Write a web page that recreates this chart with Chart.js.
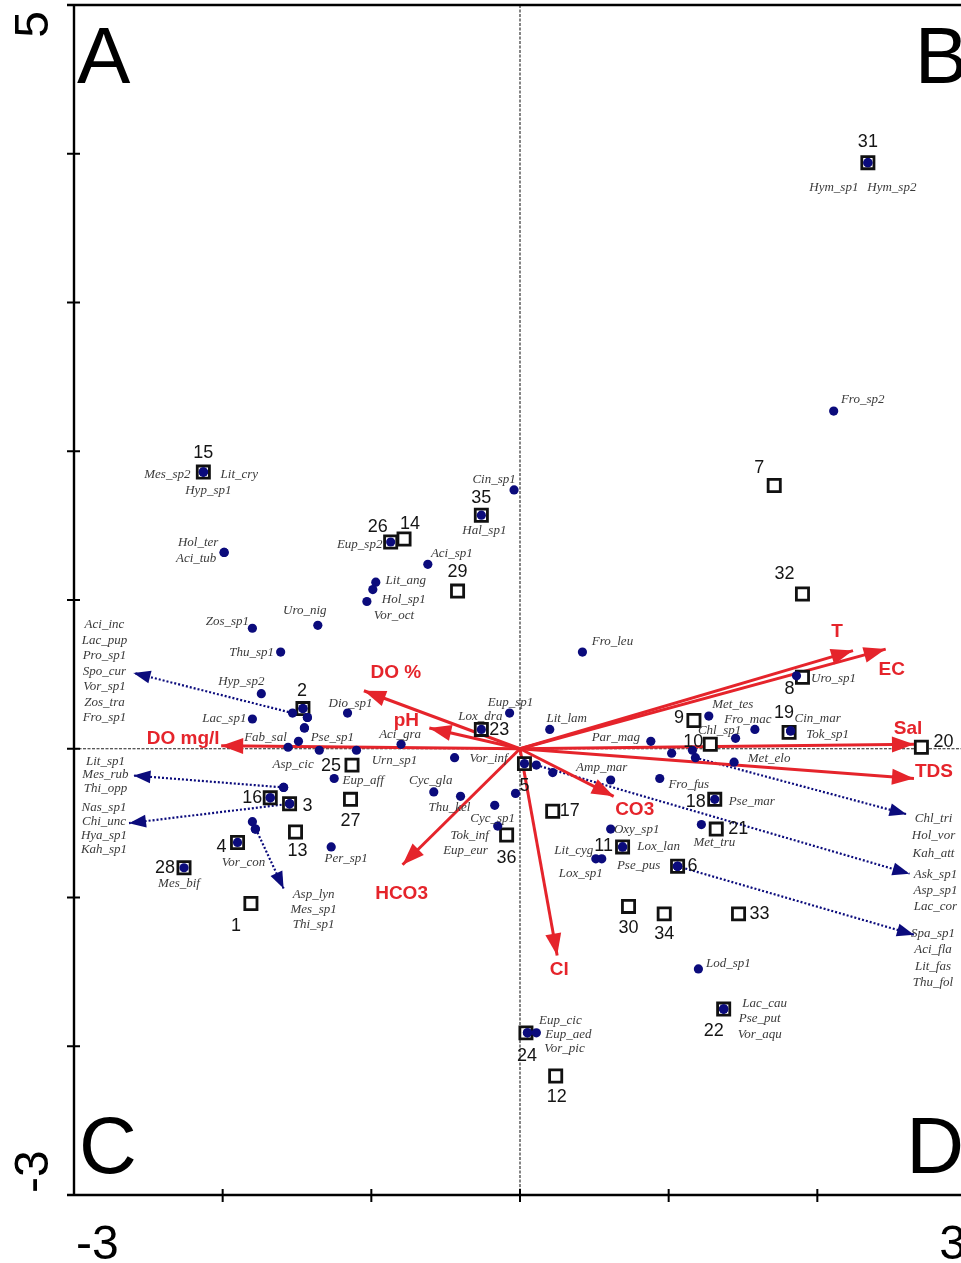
<!DOCTYPE html>
<html>
<head>
<meta charset="utf-8">
<script src="https://cdn.jsdelivr.net/npm/chart.js@4/dist/chart.umd.min.js"></script>
<style>
  html, body { margin: 0; padding: 0; overflow: hidden; background: #fff; }
  canvas { display: block; }
</style>
</head>
<body>
<canvas id="c" width="980" height="1263"></canvas>
<script>
// ---- Site scores (axis 1, axis 2) ----
const siteIds = [1,2,3,4,5,6,7,8,9,10,11,12,13,14,15,16,17,18,19,20,21,22,23,24,25,26,27,28,29,30,31,32,33,34,35,36];
const siteX = [-1.81,-1.46,-1.55,-1.90,0.03,1.06,1.71,1.90,1.17,1.28,0.69,0.24,-1.51,-0.78,-2.13,-1.68,0.22,1.31,1.81,2.70,1.32,1.37,-0.26,0.04,-1.13,-0.87,-1.14,-2.26,-0.42,0.73,2.34,1.90,1.47,0.97,-0.26,-0.09];
const siteY = [-1.04,0.27,-0.37,-0.63,-0.10,-0.79,1.77,0.48,0.19,0.03,-0.66,-2.20,-0.56,1.41,1.86,-0.33,-0.42,-0.34,0.11,0.01,-0.54,-1.75,0.13,-1.91,-0.11,1.39,-0.34,-0.80,1.06,-1.06,3.94,1.04,-1.11,-1.11,1.57,-0.58];

// ---- Species scores ----
const speciesNames = [
  'Hym_sp1','Hym_sp2','Fro_sp2','Mes_sp2','Lit_cry','Hyp_sp1','Hol_ter','Aci_tub','Cin_sp1','Hal_sp1',
  'Eup_sp2','Aci_sp1','Lit_ang','Hol_sp1','Vor_oct','Uro_nig','Zos_sp1','Thu_sp1','Hyp_sp2','Lac_sp1',
  'Dio_sp1','Aci_inc','Lac_pup','Pro_sp1','Spo_cur','Vor_sp1','Zos_tra','Fro_sp1','Fab_sal','Asp_cic',
  'Pse_sp1','Urn_sp1','Aci_gra','Eup_aff','Vor_inf','Lox_dra','Eup_sp1','Lit_lam','Cyc_gla','Thu_kel',
  'Cyc_sp1','Tok_inf','Eup_eur','Amp_mar','Fro_fus','Par_mag','Met_tes','Fro_mac','Chl_sp1','Cin_mar',
  'Tok_sp1','Uro_sp1','Met_elo','Pse_mar','Met_tru','Oxy_sp1','Lox_lan','Pse_pus','Lit_cyg','Lox_sp1',
  'Lod_sp1','Lac_cau','Pse_put','Vor_aqu','Eup_cic','Eup_aed','Vor_pic','Fro_leu','Per_sp1','Vor_con',
  'Mes_bif','Lit_sp1','Mes_rub','Thi_opp','Nas_sp1','Chi_unc','Hya_sp1','Kah_sp1','Asp_lyn','Mes_sp1',
  'Thi_sp1','Chl_tri','Hol_vor','Kah_att','Ask_sp1','Asp_sp1','Lac_cor','Spa_sp1','Aci_fla','Lit_fas',
  'Thu_fol'
];
const speciesX = [
  2.34,2.34,2.11,-2.13,-2.13,-2.13,-1.99,-1.99,-0.04,-0.26,
  -0.87,-0.62,-0.97,-0.99,-1.03,-1.36,-1.80,-1.61,-1.74,-1.80,
  -1.16,-1.46,-1.46,-1.43,-1.53,-1.45,-1.45,-1.43,-1.49,-1.56,
  -1.35,-1.10,-0.80,-1.25,-0.44,-0.26,-0.07,0.20,-0.58,-0.40,
  -0.17,-0.15,-0.03,0.61,0.94,0.88,1.27,1.58,1.45,1.82,
  1.82,1.86,1.44,1.31,1.22,0.61,0.69,0.69,0.51,0.55,
  1.20,1.37,1.37,1.37,0.11,0.05,0.05,0.42,-1.27,-1.90,
  -2.26,-1.59,-1.59,-1.68,-1.55,-1.55,-1.68,-1.55,-1.80,-1.78,
  -1.78,1.18,1.16,1.02,0.11,0.22,0.03,1.06,1.06,1.06,
  1.06
];
const speciesY = [
  3.94,3.94,2.27,1.86,1.86,1.86,1.32,1.32,1.74,1.57,
  1.39,1.24,1.12,1.07,0.99,0.83,0.81,0.65,0.37,0.20,
  0.24,0.27,0.27,0.21,0.24,0.14,0.14,0.21,0.05,0.01,
  -0.01,-0.01,0.03,-0.20,-0.06,0.13,0.24,0.13,-0.29,-0.32,
  -0.38,-0.52,-0.30,-0.21,-0.20,0.05,0.22,0.13,0.07,0.12,
  0.12,0.49,-0.09,-0.34,-0.51,-0.54,-0.66,-0.66,-0.74,-0.74,
  -1.48,-1.75,-1.75,-1.75,-1.91,-1.91,-1.91,0.65,-0.66,-0.63,
  -0.80,-0.26,-0.26,-0.33,-0.37,-0.37,-0.33,-0.37,-0.49,-0.54,
  -0.54,-0.06,-0.01,-0.03,-0.11,-0.16,-0.10,-0.79,-0.79,-0.79,
  -0.79
];

// ---- Environmental variables (biplot arrows) ----
const envNames = ['T','EC','Sal','TDS','CO3','Cl','HCO3','DO %','pH','DO mg/l'];
const envX = [2.24,2.46,2.65,2.65,0.63,0.25,-0.79,-1.05,-0.61,-2.01];
const envY = [0.66,0.67,0.03,-0.20,-0.32,-1.39,-0.78,0.39,0.14,0.02];

// ---- Species whose names are listed away from crowded spots ----
const groupLead = ['Spo_cur','Lit_sp1','Chi_unc','Asp_lyn','Chl_tri','Ask_sp1','Spa_sp1'];
const groupMembers = [
  ['Aci_inc','Lac_pup','Pro_sp1','Spo_cur','Vor_sp1','Zos_tra','Fro_sp1'],
  ['Lit_sp1','Mes_rub','Thi_opp'],
  ['Nas_sp1','Chi_unc','Hya_sp1','Kah_sp1'],
  ['Asp_lyn','Mes_sp1','Thi_sp1'],
  ['Chl_tri','Hol_vor','Kah_att'],
  ['Ask_sp1','Asp_sp1','Lac_cor'],
  ['Spa_sp1','Aci_fla','Lit_fas','Thu_fol']
];
const groupTipX = [-2.60,-2.60,-2.63,-1.59,2.60,2.62,2.65];
const groupTipY = [0.51,-0.18,-0.50,-0.94,-0.44,-0.84,-1.25];

// ---- Axis texts ----
const xTickLabels = ['-3','3'];
const yTickLabels = ['5','-3'];
const quadrantLetters = ['A','B','C','D'];

// ---- Styling / placement ----
const RED = '#e5242b';
const NAVY = '#0b0b7c';
const SP_FONT = "italic 13px 'Liberation Serif', 'DejaVu Serif', serif";
const SITE_FONT = "18px 'Liberation Sans', Arial, sans-serif";
const ENV_FONT = "bold 19px 'Liberation Sans', Arial, sans-serif";

// label centre offsets (px) from the point
const siteLabelOffset = {
  1:[-15,23],2:[-1,-18],3:[18,2],4:[-16,5],5:[0,22],6:[15,0],7:[-15,-17],8:[-13,12],9:[-15,-2],10:[-17,-2],
  11:[-19,-1],12:[1,21],13:[2,19],14:[6,-15],15:[0,-19],16:[-18,0],17:[17,0],18:[-19,3],19:[-5,-19],20:[22,-5],
  21:[22,0],22:[-10,22],23:[18,1],24:[1,23],25:[-21,1],26:[-13,-15],27:[0,22],28:[-19,0],29:[0,-19],30:[0,22],
  31:[0,-21],32:[-18,-20],33:[21,0],34:[0,20],35:[0,-17],36:[0,23]
};
const speciesLabelOffset = {
  Hym_sp1:[-34,25],Hym_sp2:[24,25],Fro_sp2:[29,-12],Mes_sp2:[-36,3],Lit_cry:[36,3],Hyp_sp1:[5,19],
  Hol_ter:[-26,-10],Aci_tub:[-28,6],Cin_sp1:[-20,-10],Hal_sp1:[3,15],Eup_sp2:[-31,3],Aci_sp1:[24,-11],
  Lit_ang:[30,-2],Hol_sp1:[31,10],Vor_oct:[27,14],Uro_nig:[-13,-15],Zos_sp1:[-25,-7],Thu_sp1:[-29,1],
  Hyp_sp2:[-20,-12],Lac_sp1:[-28,0],Dio_sp1:[3,-9],Fab_sal:[-33,-4],Pse_sp1:[13,-13],Asp_cic:[5,17],
  Urn_sp1:[38,10],Aci_gra:[-1,-10],Eup_aff:[29,2],Vor_inf:[34,1],Lox_dra:[-1,-13],Eup_sp1:[1,-10],
  Lit_lam:[17,-11],Cyc_gla:[-3,-11],Thu_kel:[-11,11],Cyc_sp1:[-2,13],Tok_inf:[-28,9],Eup_eur:[-50,57],
  Amp_mar:[-9,-12],Fro_fus:[29,6],Par_mag:[-35,-4],Met_tes:[24,-11],Fro_mac:[-7,-10],Chl_sp1:[-16,-8],
  Cin_mar:[27,-12],Tok_sp1:[37,4],Uro_sp1:[37,3],Met_elo:[35,-4],Pse_mar:[37,2],Met_tru:[13,18],
  Oxy_sp1:[26,1],Lox_lan:[36,0],Pse_pus:[16,19],Lit_cyg:[-22,-8],Lox_sp1:[-21,15],Lod_sp1:[30,-5],
  Lac_cau:[41,-5],Pse_put:[36,10],Vor_aqu:[36,26],Eup_cic:[24,-12],Eup_aed:[41,2],Vor_pic:[37,16],
  Fro_leu:[30,-10],Per_sp1:[15,12],Vor_con:[6,20],Mes_bif:[-5,16]
};
// [column centre dx, first line dy, line step] relative to the arrow tip
const groupLabelPlace = [[-29,-48,15.5],[-28,-14,13.5],[-25,-16,14.3],[30,6,15],[27,4,17.5],[26,1,16],[19,-1,16.3]];
const envLabelOffset = [[-16,-19],[6,21],[-6,-16],[20,-7],[21,13],[2,14],[-1,29],[32,-18],[-23,-7],[-38,-7]];

const spIndex = Object.fromEntries(speciesNames.map((n, i) => [n, i]));

// ---- datasets ----
const datasets = [];
datasets.push({
  label: 'Species', type: 'scatter', order: 0,
  data: speciesNames.map((n, i) => ({x: speciesX[i], y: speciesY[i]})),
  pointStyle: 'circle', pointRadius: 4.6, pointBackgroundColor: NAVY, pointBorderWidth: 0
});
datasets.push({
  label: 'Sites', type: 'scatter', order: 1,
  data: siteIds.map((n, i) => ({x: siteX[i], y: siteY[i]})),
  pointStyle: 'rect', pointRadius: 8.6, pointBackgroundColor: '#fff',
  pointBorderColor: '#111', pointBorderWidth: 2.8
});
envNames.forEach((n, i) => datasets.push({
  label: n, type: 'scatter', order: 2, showLine: true,
  data: [{x: 0, y: 0}, {x: envX[i], y: envY[i]}],
  borderColor: RED, borderWidth: 3, pointRadius: 0, clip: false
}));
groupLead.forEach((lead, g) => {
  const k = spIndex[lead];
  datasets.push({
    label: lead, type: 'scatter', order: 3, showLine: true,
    data: [{x: speciesX[k], y: speciesY[k]}, {x: groupTipX[g], y: groupTipY[g]}],
    borderColor: NAVY, borderWidth: 2.2, borderDash: [2, 2], pointRadius: 0, clip: false
  });
});

function arrowHead(ctx, x0, y0, x1, y1, len, hw, color) {
  const dx = x1 - x0, dy = y1 - y0, d = Math.hypot(dx, dy);
  const ux = dx / d, uy = dy / d;
  const bx = x1 - ux * len, by = y1 - uy * len;
  ctx.fillStyle = color;
  ctx.beginPath();
  ctx.moveTo(x1, y1);
  ctx.lineTo(bx - uy * hw, by + ux * hw);
  ctx.lineTo(bx + uy * hw, by - ux * hw);
  ctx.closePath();
  ctx.fill();
}

const ordination = {
  id: 'ordination',
  beforeDatasetsDraw(chart) {
    const {ctx, chartArea: a, scales: {x, y}} = chart;
    const x0 = x.getPixelForValue(0), y0 = y.getPixelForValue(0);
    ctx.save();
    ctx.strokeStyle = '#222';
    ctx.lineWidth = 1.1;
    ctx.setLineDash([3, 1.5]);
    ctx.beginPath();
    ctx.moveTo(x0, a.top); ctx.lineTo(x0, a.bottom);
    ctx.moveTo(a.left, y0); ctx.lineTo(a.right, y0);
    ctx.stroke();
    ctx.restore();
  },
  afterDatasetsDraw(chart) {
    const {ctx, chartArea: a, scales: {x, y}} = chart;
    const px = v => x.getPixelForValue(v), py = v => y.getPixelForValue(v);
    const ox = px(0), oy = py(0);
    ctx.save();

    // arrow heads
    envNames.forEach((n, i) => arrowHead(ctx, ox, oy, px(envX[i]), py(envY[i]), 22, 8, RED));
    groupLead.forEach((lead, g) => {
      const k = spIndex[lead];
      arrowHead(ctx, px(speciesX[k]), py(speciesY[k]), px(groupTipX[g]), py(groupTipY[g]), 17, 6.5, NAVY);
    });

    ctx.textAlign = 'center';
    ctx.textBaseline = 'middle';

    // species names beside points
    ctx.font = SP_FONT;
    ctx.fillStyle = '#3a3a3a';
    speciesNames.forEach((n, i) => {
      const off = speciesLabelOffset[n];
      if (!off) return;
      ctx.fillText(n, px(speciesX[i]) + off[0], py(speciesY[i]) + off[1]);
    });
    // species names in lists at arrow tips
    groupMembers.forEach((names, g) => {
      const [dx, dy, step] = groupLabelPlace[g];
      const tx = px(groupTipX[g]), ty = py(groupTipY[g]);
      names.forEach((n, j) => ctx.fillText(n, tx + dx, ty + dy + j * step));
    });

    // site numbers
    ctx.font = SITE_FONT;
    ctx.fillStyle = '#151515';
    siteIds.forEach((id, i) => {
      const off = siteLabelOffset[id];
      ctx.fillText(String(id), px(siteX[i]) + off[0], py(siteY[i]) + off[1]);
    });

    // environmental variable names
    ctx.font = ENV_FONT;
    ctx.fillStyle = RED;
    envNames.forEach((n, i) => {
      const off = envLabelOffset[i];
      ctx.fillText(n, px(envX[i]) + off[0], py(envY[i]) + off[1]);
    });

    // frame
    const L = px(-3), R = px(3), T = py(5), B = py(-3);
    ctx.strokeStyle = '#000';
    ctx.lineWidth = 2.4;
    ctx.beginPath();
    ctx.moveTo(L - 7, T); ctx.lineTo(R, T);
    ctx.moveTo(L, T); ctx.lineTo(L, B);
    ctx.moveTo(L - 7, B); ctx.lineTo(R, B);
    ctx.moveTo(R, T); ctx.lineTo(R, B);
    ctx.stroke();
    ctx.lineWidth = 2;
    ctx.beginPath();
    for (let v = -2; v <= 4; v++) { ctx.moveTo(L - 7, py(v)); ctx.lineTo(L + 6, py(v)); }
    for (let v = -2; v <= 2; v++) { ctx.moveTo(px(v), B - 6); ctx.lineTo(px(v), B + 7); }
    ctx.stroke();

    // tick labels
    ctx.fillStyle = '#000';
    ctx.font = "48px 'Liberation Sans', Arial, sans-serif";
    ctx.textBaseline = 'alphabetic';
    ctx.textAlign = 'left';
    ctx.fillText(xTickLabels[0], L + 2, B + 64);
    ctx.textAlign = 'right';
    ctx.fillText(xTickLabels[1], R, B + 64);
    ctx.save();
    ctx.translate(48, T + 6);
    ctx.rotate(-Math.PI / 2);
    ctx.textAlign = 'right';
    ctx.fillText(yTickLabels[0], 0, 0);
    ctx.restore();
    ctx.save();
    ctx.translate(48, B - 2);
    ctx.rotate(-Math.PI / 2);
    ctx.textAlign = 'left';
    ctx.fillText(yTickLabels[1], 0, 0);
    ctx.restore();

    // quadrant letters
    ctx.font = "80px 'Liberation Sans', Arial, sans-serif";
    ctx.textAlign = 'left';
    ctx.fillText(quadrantLetters[0], L + 3, T + 78);
    ctx.fillText(quadrantLetters[2], L + 5, B - 22);
    ctx.textAlign = 'right';
    ctx.fillText(quadrantLetters[1], R + 2, T + 78);
    ctx.fillText(quadrantLetters[3], R - 2, B - 22);

    ctx.restore();
  }
};

new Chart(document.getElementById('c'), {
  type: 'scatter',
  data: { datasets },
  options: {
    responsive: false,
    animation: false,
    events: [],
    layout: { autoPadding: false, padding: { left: 74, top: 5, right: 14, bottom: 68 } },
    scales: {
      x: { type: 'linear', min: -3, max: 3, display: false },
      y: { type: 'linear', min: -3, max: 5, display: false }
    },
    plugins: { legend: { display: false }, tooltip: { enabled: false } }
  },
  plugins: [ordination]
});
</script>
</body>
</html>
